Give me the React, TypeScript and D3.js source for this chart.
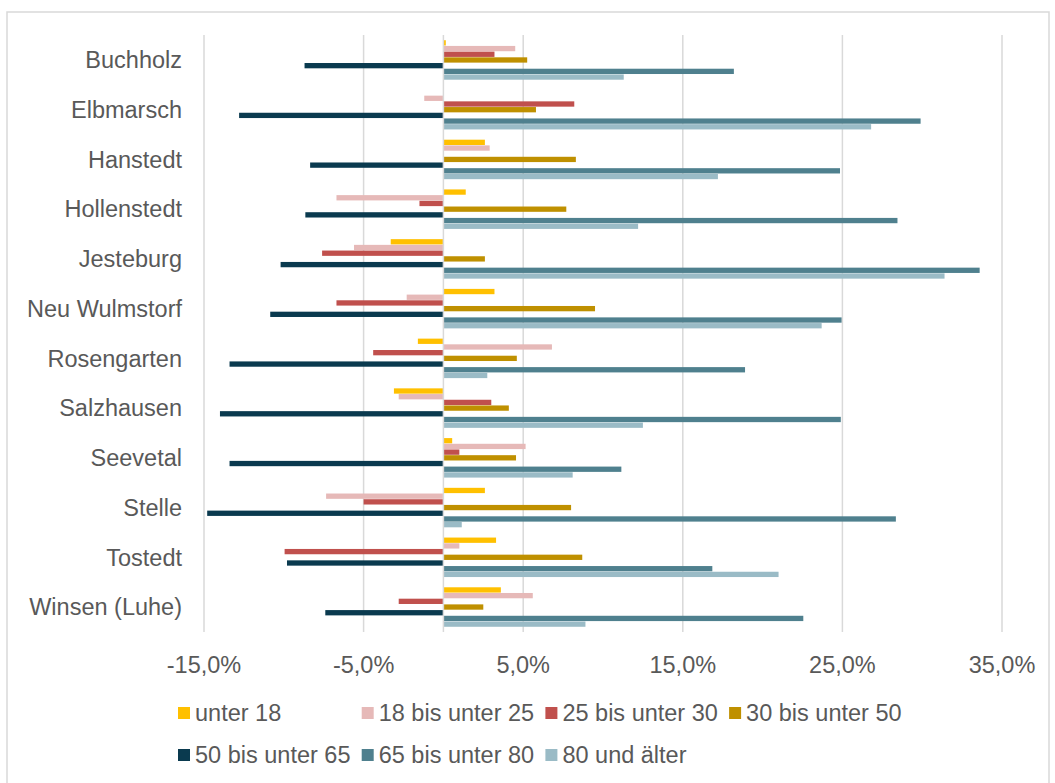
import React from "react";
import * as d3 from "d3";

// Municipalities (top to bottom)
const categories = [
  "Buchholz",
  "Elbmarsch",
  "Hanstedt",
  "Hollenstedt",
  "Jesteburg",
  "Neu Wulmstorf",
  "Rosengarten",
  "Salzhausen",
  "Seevetal",
  "Stelle",
  "Tostedt",
  "Winsen (Luhe)",
];

// Age groups
const seriesNames = [
  "unter 18",
  "18 bis unter 25",
  "25 bis unter 30",
  "30 bis unter 50",
  "50 bis unter 65",
  "65 bis unter 80",
  "80 und älter",
];

const seriesColors = [
  "#FFC000",
  "#E6B9B8",
  "#C0504D",
  "#BF9000",
  "#0A3A4F",
  "#4F808E",
  "#9ABBC6",
];

// Change in percent, one array per age group, in category order
const unter18 = [0.15, 0, 2.6, 1.4, -3.3, 3.2, -1.6, -3.1, 0.55, 2.6, 3.3, 3.6];
const von18bis25 = [4.5, -1.2, 2.9, -6.7, -5.6, -2.3, 6.8, -2.8, 5.15, -7.35, 1.0, 5.6];
const von25bis30 = [3.2, 8.2, 0, -1.5, -7.6, -6.7, -4.4, 3.0, 1.0, -5.0, -9.95, -2.8];
const von30bis50 = [5.25, 5.8, 8.3, 7.7, 2.6, 9.5, 4.6, 4.1, 4.55, 8.0, 8.7, 2.5];
const von50bis65 = [-8.7, -12.8, -8.35, -8.65, -10.2, -10.85, -13.4, -14.0, -13.4, -14.8, -9.8, -7.4];
const von65bis80 = [18.2, 29.9, 24.85, 28.45, 33.6, 24.95, 18.9, 24.9, 11.15, 28.35, 16.85, 22.55];
const ab80 = [11.3, 26.8, 17.2, 12.2, 31.4, 23.7, 2.75, 12.5, 8.1, 1.15, 21.0, 8.9];

const seriesValues = [unter18, von18bis25, von25bis30, von30bis50, von50bis65, von65bis80, ab80];

const xTicks = [-15, -5, 5, 15, 25, 35];

const W = 1055;
const H = 783;
const FONT = "'Liberation Sans', Arial, sans-serif";
const TEXT = "#595959";
const GRID = "#D9D9D9";
const FS = 23.5;

export default function App() {
  const x = d3.scaleLinear().domain([-15, 35]).range([204, 1002]);
  const y = d3
    .scaleBand<string>()
    .domain(categories)
    .range([35.1, 631.9])
    .paddingInner(0.198)
    .paddingOuter(0.099);
  const inner = d3
    .scaleBand<number>()
    .domain(d3.range(seriesNames.length))
    .range([0, y.bandwidth()]);

  // German number format with a plain hyphen as minus sign
  const pct = (v: number) =>
    d3.format(".1f")(v).replace("\u2212", "-").replace(".", ",") + "%";

  const legendCols = 4;
  const legendX0 = 178;
  const legendColW = 183.7;
  const legendRowY = [713, 755];

  return (
    <svg
      width={W}
      height={H}
      style={{ position: "absolute", left: 0, top: 0, background: "#fff" }}
      fontFamily={FONT}
    >
      {/* chart frame */}
      <rect x={7} y={12} width={1042} height={780} fill="#fff" stroke={GRID} strokeWidth={1.5} />

      {/* vertical gridlines */}
      {xTicks.map((t) => (
        <line key={t} x1={x(t)} x2={x(t)} y1={35} y2={632} stroke={GRID} strokeWidth={1.5} />
      ))}

      {/* bars */}
      {categories.map((c, ci) => (
        <g key={c} transform={`translate(0,${y(c)})`}>
          {seriesValues.map((vals, si) => {
            const v = vals[ci];
            if (v === 0) return null;
            const x0 = x(Math.min(0, v));
            const x1 = x(Math.max(0, v));
            return (
              <rect
                key={si}
                x={x0}
                y={inner(si)! + 0.2}
                width={x1 - x0}
                height={inner.bandwidth() - 0.4}
                fill={seriesColors[si]}
              />
            );
          })}
        </g>
      ))}

      {/* zero axis */}
      <line x1={x(0)} x2={x(0)} y1={35} y2={632} stroke={GRID} strokeWidth={1.5} />

      {/* category labels */}
      {categories.map((c) => (
        <text
          key={c}
          x={182}
          y={y(c)! + y.bandwidth() / 2}
          dy="0.35em"
          textAnchor="end"
          fontSize={FS}
          fill={TEXT}
        >
          {c}
        </text>
      ))}

      {/* x tick labels */}
      {xTicks.map((t) => (
        <text key={t} x={x(t)} y={665} dy="0.35em" textAnchor="middle" fontSize={FS} fill={TEXT}>
          {pct(t)}
        </text>
      ))}

      {/* legend */}
      {seriesNames.map((n, i) => {
        const col = i % legendCols;
        const row = Math.floor(i / legendCols);
        const lx = legendX0 + col * legendColW;
        const ly = legendRowY[row];
        return (
          <g key={n}>
            <rect x={lx} y={ly - 6} width={12} height={12} fill={seriesColors[i]} />
            <text x={lx + 17} y={ly} dy="0.35em" fontSize={FS} fill={TEXT}>
              {n}
            </text>
          </g>
        );
      })}
    </svg>
  );
}
